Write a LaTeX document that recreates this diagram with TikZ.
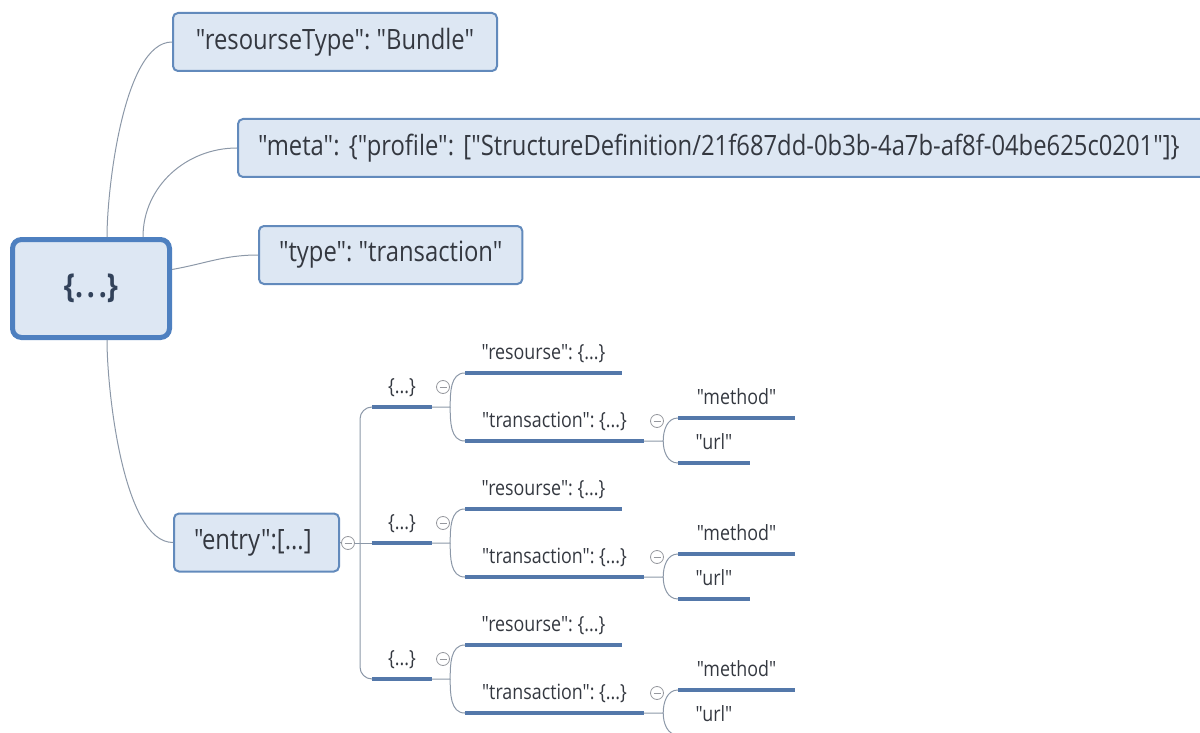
\documentclass[tikz,border=0pt]{standalone}
\usepackage{fontspec}
\setmainfont{Open Sans}[Ligatures=TeXOff,FakeStretch=0.85]
\usetikzlibrary{positioning}
\definecolor{cFill}{RGB}{221,231,243}
\definecolor{cEdge}{RGB}{98,138,188}
\definecolor{cRoot}{RGB}{78,128,192}
\definecolor{cLine}{RGB}{84,120,170}
\definecolor{cWire}{RGB}{140,152,168}
\definecolor{cText}{RGB}{52,56,64}
\definecolor{cDark}{RGB}{50,66,90}
\definecolor{cFold}{RGB}{150,152,158}
\tikzset{
  keybox/.style={rectangle,rounded corners=5pt,draw=cEdge,line width=2pt,
                 fill=cFill,text=cText,font=\fontsize{28}{32}\selectfont,
                 inner xsep=20pt,minimum height=58pt,anchor=west},
  rootbox/.style={keybox,draw=cRoot,line width=5pt,rounded corners=9pt,
                  minimum width=157pt,minimum height=98pt,anchor=center,
                  font=\bfseries\fontsize{33}{36}\selectfont,text=cDark},
  uline/.style={draw=cLine,line width=4pt},
  leaf/.style={minimum width=#1,inner sep=0pt,text height=11pt,text depth=13pt,
               anchor=south,text=cText,font=\fontsize{21}{24}\selectfont,
               append after command={(\tikzlastnode.south west)
                 edge[uline] (\tikzlastnode.south east)}},
  wire/.style={draw=cWire,line width=1pt},
  fold/.style={circle,draw=cFold,line width=0.8pt,minimum size=13pt,inner sep=0pt,
               path picture={\draw[cFold,line width=0.8pt]
                 ([xshift=3pt]path picture bounding box.west) --
                 ([xshift=-3pt]path picture bounding box.east);}}
}

\begin{document}
\frenchspacing
\begin{tikzpicture}[x=1pt,y=1pt]
  \clip (0,0) rectangle (1200,-733);

  \node[rootbox] (root) at (91,-288.5) {\{.\kern4pt.\kern4pt.\}};

  \node[keybox,minimum width=324pt] (restype) at (172,-42) {"resourseType": "Bundle"};
  \node[keybox,text width=945pt,align=left] (meta) at (237,-148)
      {"meta": \{"profile": ["StructureDefinition/21f687dd-0b3b-4a7b-af8f-04be625c0201"]\}};
  \node[keybox] (type) at (258,-255) {"type": "transaction"};
  \node[keybox,text width=125pt,align=left] (entry) at (173,-542.5) {"entry":[...]};

  \draw[wire] ([xshift=16pt]root.north) to[out=90,in=180,looseness=0.6] (restype.west);
  \draw[wire] ([xshift=52pt]root.north) to[out=90,in=180] (meta.west);
  \draw[wire] ([yshift=19pt]root.east) to[out=10,in=180] (type.west);
  \draw[wire] ([xshift=16pt]root.south) to[out=-90,in=180,looseness=0.6] (entry.west);

  % entry array
  \node[fold] (fold0) at (348,-543) {};
  \coordinate (spine) at (360,-543);

  % first object
  \node[leaf=60pt] (obj1) at (402,-407) {\{...\}};
  \node[fold] (fold1) at (443,-387) {};
  \node[leaf=157pt] (res1) at (543.5,-373) {"resourse": \{...\}};
  \node[leaf=179pt] (trans1) at (554.5,-441) {"transaction": \{...\}};
  \node[fold] (foldt1) at (657,-421) {};
  \node[leaf=117pt] (meth1) at (736.5,-418) {"method"};
  \node[leaf=72pt] (url1) at (714,-463) {"url"};

  % second object
  \node[leaf=60pt] (obj2) at (402,-543) {\{...\}};
  \node[fold] (fold2) at (443,-523) {};
  \node[leaf=157pt] (res2) at (543.5,-509) {"resourse": \{...\}};
  \node[leaf=179pt] (trans2) at (554.5,-577) {"transaction": \{...\}};
  \node[fold] (foldt2) at (657,-557) {};
  \node[leaf=117pt] (meth2) at (736.5,-554) {"method"};
  \node[leaf=72pt] (url2) at (714,-599) {"url"};

  % third object
  \node[leaf=60pt] (obj3) at (402,-679) {\{...\}};
  \node[fold] (fold3) at (443,-659) {};
  \node[leaf=157pt] (res3) at (543.5,-645) {"resourse": \{...\}};
  \node[leaf=179pt] (trans3) at (554.5,-713) {"transaction": \{...\}};
  \node[fold] (foldt3) at (657,-693) {};
  \node[leaf=117pt] (meth3) at (736.5,-690) {"method"};
  \node[leaf=72pt] (url3) at (714,-735) {"url"};

  \draw[wire] (entry.east) -- (fold0);
  \draw[wire] (fold0) -- (obj2.south west);
  \draw[wire,rounded corners=12pt] (spine) |- (obj1.south west);
  \draw[wire,rounded corners=12pt] (spine) |- (obj3.south west);

  \draw[wire] (obj1.south east) -- ++(18,0) coordinate (b1)
      to[out=90,in=180] (res1.south west);
  \draw[wire] (b1) to[out=-90,in=180] (trans1.south west);
  \draw[wire] (trans1.south east) -- ++(19,0) coordinate (c1)
      to[out=90,in=180] (meth1.south west);
  \draw[wire] (c1) to[out=-90,in=180] (url1.south west);

  \draw[wire] (obj2.south east) -- ++(18,0) coordinate (b2)
      to[out=90,in=180] (res2.south west);
  \draw[wire] (b2) to[out=-90,in=180] (trans2.south west);
  \draw[wire] (trans2.south east) -- ++(19,0) coordinate (c2)
      to[out=90,in=180] (meth2.south west);
  \draw[wire] (c2) to[out=-90,in=180] (url2.south west);

  \draw[wire] (obj3.south east) -- ++(18,0) coordinate (b3)
      to[out=90,in=180] (res3.south west);
  \draw[wire] (b3) to[out=-90,in=180] (trans3.south west);
  \draw[wire] (trans3.south east) -- ++(19,0) coordinate (c3)
      to[out=90,in=180] (meth3.south west);
  \draw[wire] (c3) to[out=-90,in=180] (url3.south west);

\end{tikzpicture}
\end{document}
